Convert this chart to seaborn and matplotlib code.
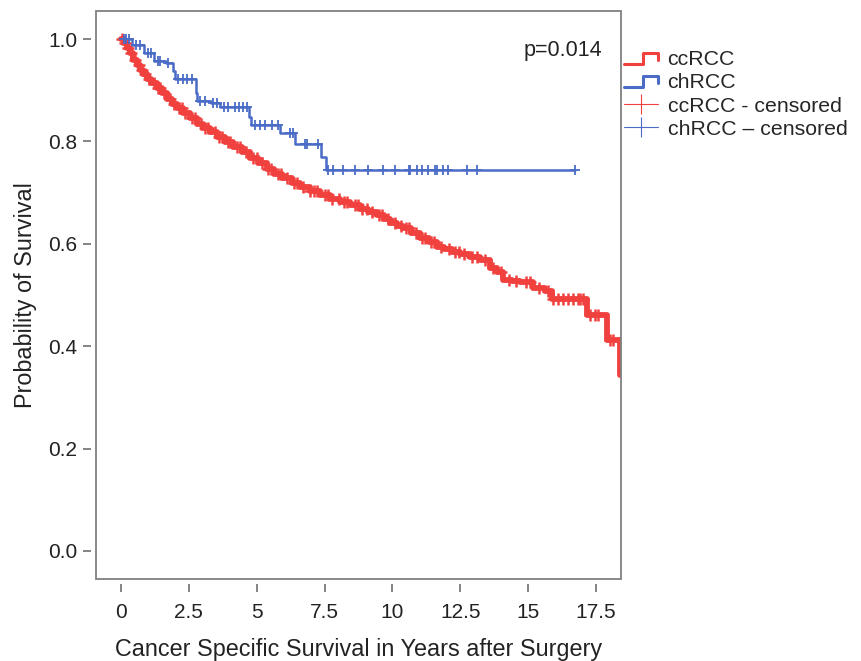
import numpy as np
import pandas as pd
import matplotlib
matplotlib.use("Agg")
import matplotlib.pyplot as plt
from matplotlib.lines import Line2D
from matplotlib.patches import Rectangle
from matplotlib.legend_handler import HandlerBase
import seaborn as sns

# ccRCC Kaplan-Meier steps (years, survival)
cc_time = [0, 0.1, 0.21, 0.33, 0.45, 0.58, 0.70, 0.82, 0.95, 1.1, 1.31, 1.5, 1.68, 1.87,
           2.05, 2.3, 2.54, 2.79, 3.03, 3.28, 3.53, 3.85, 4.14, 4.45, 4.75, 5.05, 5.37,
           5.65, 5.95, 6.3, 6.6, 6.95, 7.33, 7.7, 8.07, 8.45, 8.81, 9.1, 9.42, 9.7, 9.91,
           10.15, 10.4, 10.7, 11.02, 11.35, 11.63, 11.9, 12.2, 12.49, 12.85, 13.23, 13.6,
           13.85, 14.09, 14.4, 14.7, 15.19, 15.62, 15.87, 17.16, 17.9, 18.39]
cc_surv = [1.0, 0.992, 0.982, 0.972, 0.960, 0.950, 0.940, 0.931, 0.923, 0.914, 0.904, 0.894,
           0.884, 0.874, 0.865, 0.855, 0.845, 0.835, 0.826, 0.818, 0.809, 0.799, 0.790,
           0.779, 0.767, 0.757, 0.746, 0.736, 0.728, 0.719, 0.711, 0.703, 0.695, 0.688,
           0.682, 0.675, 0.669, 0.663, 0.656, 0.648, 0.640, 0.635, 0.630, 0.622, 0.612,
           0.603, 0.594, 0.590, 0.585, 0.581, 0.575, 0.568, 0.552, 0.545, 0.530, 0.528,
           0.526, 0.513, 0.507, 0.492, 0.461, 0.412, 0.343]
cc_censor = [0.05, 0.15, 0.26, 0.38, 0.51, 0.66, 0.77, 0.88, 1.02, 1.22, 1.35, 1.43, 1.6,
             1.81, 1.95, 2.12, 2.24, 2.37, 2.6, 2.71, 2.94, 3.1, 3.22, 3.47, 3.6, 3.71,
             3.93, 4.02, 4.28, 4.37, 4.61, 4.88, 5.0, 5.21, 5.43, 5.52, 5.79, 5.9, 6.12,
             6.38, 6.5, 6.72, 6.98, 7.1, 7.21, 7.52, 7.63, 7.79, 8.02, 8.2, 8.33, 8.61,
             8.75, 8.88, 9.05, 9.23, 9.51, 9.62, 9.82, 10.08, 10.32, 10.5, 10.61, 10.88,
             11.1, 11.19, 11.41, 11.52, 11.79, 12.08, 12.31, 12.44, 12.62, 12.93, 13.12,
             13.41, 13.72, 14.01, 14.28, 14.55, 14.91, 15.08, 15.41, 15.72, 15.93, 16.11,
             16.3, 16.48, 16.67, 16.85, 16.91, 17.03, 17.28, 17.47, 17.59, 18.02, 18.14]

# chRCC Kaplan-Meier steps
ch_time = [0, 0.4, 0.85, 1.2, 1.65, 1.9, 2.0, 2.75, 2.8, 3.3, 3.65, 4.7, 4.8, 5.86, 6.41,
           7.36, 7.55, 16.73]
ch_surv = [1.0, 0.988, 0.972, 0.958, 0.953, 0.938, 0.922, 0.895, 0.880, 0.876, 0.868,
           0.848, 0.832, 0.816, 0.796, 0.770, 0.744, 0.744]
ch_censor = [0.1, 0.2, 0.3, 0.55, 0.7, 1.0, 1.1, 1.35, 1.45, 1.75, 2.1, 2.3, 2.45, 2.6,
             2.9, 3.1, 3.4, 3.55, 3.8, 3.95, 4.2, 4.35, 4.5, 4.63, 4.94, 5.12, 5.31, 5.55,
             5.8, 6.23, 6.35, 6.78, 6.84, 7.27, 7.64, 7.82, 8.19, 8.62, 9.11, 9.67, 10.1,
             10.6, 10.65, 10.9, 11.08, 11.32, 11.57, 11.63, 11.87, 12.06, 12.74, 13.11,
             16.73]

x_ticks = [0, 2.5, 5, 7.5, 10, 12.5, 15, 17.5]
y_ticks = [0.0, 0.2, 0.4, 0.6, 0.8, 1.0]
p_text = "p=0.014"
labels = ["ccRCC", "chRCC", "ccRCC - censored", "chRCC \u2013 censored"]

RED = "#f0413f"
BLUE = "#4a6cc6"


def censor_points(times, surv, cens):
    idx = np.searchsorted(times, cens, side="right") - 1
    return pd.DataFrame({"time": cens, "surv": np.asarray(surv)[idx]})


class StepHandler(HandlerBase):
    def create_artists(self, legend, orig_handle, xdescent, ydescent, width, height,
                       fontsize, trans):
        x0, y0 = -xdescent, -ydescent
        xs = [x0, x0 + 0.55 * width, x0 + 0.55 * width, x0 + width, x0 + width]
        ys = [y0 + 0.1 * height, y0 + 0.1 * height, y0 + 0.8 * height,
              y0 + 0.8 * height, y0 + 0.35 * height]
        ln = Line2D(xs, ys, color=orig_handle.get_color(), lw=2.2, transform=trans)
        return [ln]


sns.set_theme(style="white")
plt.rcParams["font.family"] = ["Liberation Sans", "DejaVu Sans"]

fig = plt.figure(figsize=(8.62, 6.61), dpi=100)
ax = fig.add_axes([96 / 862, 1 - 579 / 661, (621 - 96) / 862, (579 - 11) / 661])

df_cc = pd.DataFrame({"time": cc_time, "surv": cc_surv})
df_ch = pd.DataFrame({"time": ch_time, "surv": ch_surv})

sns.lineplot(data=df_cc, x="time", y="surv", ax=ax, color=RED, lw=4.2,
             drawstyle="steps-post", estimator=None, sort=False)
sns.scatterplot(data=censor_points(cc_time, cc_surv, cc_censor), x="time", y="surv",
                ax=ax, color=RED, marker="+", s=75, linewidth=1.8, zorder=3)
sns.lineplot(data=df_ch, x="time", y="surv", ax=ax, color=BLUE, lw=1.8,
             drawstyle="steps-post", estimator=None, sort=False)
sns.scatterplot(data=censor_points(ch_time, ch_surv, ch_censor), x="time", y="surv",
                ax=ax, color=BLUE, marker="+", s=45, linewidth=1.3, zorder=4)

ax.set_xlim(-0.92, 18.42)
ax.set_ylim(-0.055, 1.055)
ax.set_xticks(x_ticks)
ax.set_xticklabels([f"{t:g}" for t in x_ticks])
ax.set_yticks(y_ticks)
ax.set_yticklabels([f"{t:.1f}" for t in y_ticks])

# detached ticks, box drawn separately
for s in ["top", "right"]:
    ax.spines[s].set_visible(False)
for s in ["left", "bottom"]:
    ax.spines[s].set_position(("outward", 3.5))
    ax.spines[s].set_color("none")
ax.add_patch(Rectangle((0, 0), 1, 1, transform=ax.transAxes, fill=False,
                       edgecolor="#808080", lw=1.3, clip_on=False, zorder=5))
ax.tick_params(axis="both", direction="out", length=6, width=1.2, color="#707070",
               labelsize=15, labelcolor="#222222", left=True, bottom=True)
ax.tick_params(axis="x", pad=8)
ax.tick_params(axis="y", pad=4)

ax.set_xlabel("Cancer Specific Survival in Years after Surgery", fontsize=16.8,
              color="#222222", labelpad=11)
ax.set_ylabel("Probability of Survival", fontsize=16.8, color="#222222", labelpad=8)

ax.text(0.89, 0.931, p_text, transform=ax.transAxes, ha="center", va="center",
        fontsize=15.5, color="#222222")

handles = [Line2D([0], [0], color=RED), Line2D([0], [0], color=BLUE),
           Line2D([0], [0], color=RED, lw=0.8, marker="|", markersize=14, mew=0.8),
           Line2D([0], [0], color=BLUE, lw=0.8, marker="|", markersize=14, mew=0.8)]
fig.legend(handles, labels, loc="upper left", bbox_to_anchor=(624 / 862, 1 - 50 / 661),
           frameon=False, fontsize=15.3, handlelength=1.6, handletextpad=0.45,
           labelspacing=0.2, borderpad=0, borderaxespad=0,
           handler_map={handles[0]: StepHandler(), handles[1]: StepHandler()})

fig.savefig("out.png", dpi=100)
